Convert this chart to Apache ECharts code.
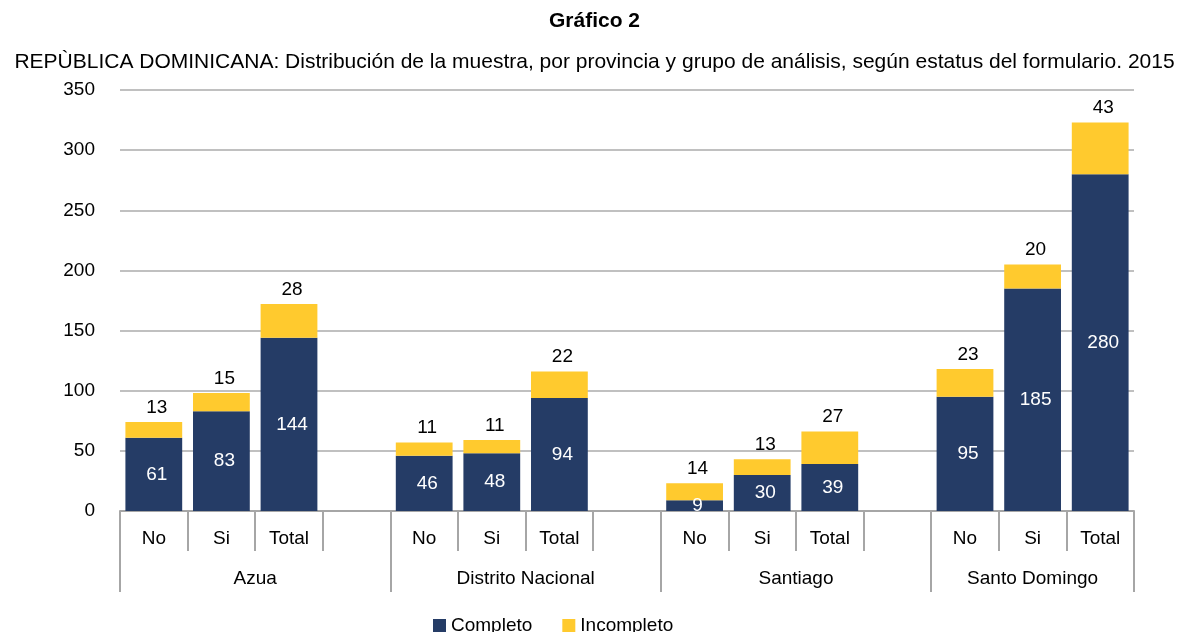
<!DOCTYPE html>
<html>
<head>
<meta charset="utf-8">
<script src="https://cdn.jsdelivr.net/npm/echarts@6/dist/echarts.min.js"></script>
<style>
  html, body { margin: 0; padding: 0; background: #fff; }
  .main { width: 1189px; height: 632px; }
</style>
</head>
<body>
<div class="main" id="main"></div>
<script>
var FONT = "'Liberation Sans', sans-serif";

// sub-categories (blank slot separates provinces)
var subCats = ['No', 'Si', 'Total', '', 'No', 'Si', 'Total', '', 'No', 'Si', 'Total', '', 'No', 'Si', 'Total'];
var provinces = ['Azua', 'Distrito Nacional', 'Santiago', 'Santo Domingo'];
var provinceCenters = [2, 6, 10, 13.5];
var provinceBounds = [0, 4, 8, 12, 15];

var completo = [61, 83, 144, null, 46, 48, 94, null, 9, 30, 39, null, 95, 185, 280];
var incompleto = [13, 15, 28, null, 11, 11, 22, null, 14, 13, 27, null, 23, 20, 43];

var myChart = echarts.init(document.getElementById('main'));

var option = {
  textStyle: { fontFamily: FONT },
  title: [
    {
      text: 'Gráfico 2',
      left: 'center',
      top: 6,
      textStyle: { fontFamily: FONT, fontSize: 21, fontWeight: 'bold', color: '#000' }
    },
    {
      text: 'REPÙBLICA DOMINICANA: Distribución de la muestra, por provincia y grupo de análisis, según estatus del formulario. 2015',
      left: 'center',
      top: 47,
      textStyle: { fontFamily: FONT, fontSize: 21, fontWeight: 'normal', color: '#000' }
    }
  ],
  legend: {
    data: ['Completo', 'Incompleto'],
    top: 611,
    left: 428,
    icon: 'rect',
    itemWidth: 13,
    itemHeight: 13,
    itemGap: 30,
    textStyle: { fontFamily: FONT, fontSize: 19, color: '#000' }
  },
  grid: { left: 120, right: 55, top: 90, bottom: 121 },
  xAxis: [
    {
      type: 'category',
      data: subCats,
      axisLine: { show: true, lineStyle: { color: '#a6a6a6', width: 2 } },
      axisTick: { show: true, interval: 0, length: 40, lineStyle: { color: '#a6a6a6', width: 2 } },
      axisLabel: { interval: 0, margin: 18, fontSize: 19, color: '#000', fontFamily: FONT }
    },
    {
      type: 'value',
      position: 'bottom',
      min: 0,
      max: 15,
      axisLine: { show: false },
      splitLine: { show: false },
      axisTick: {
        show: true,
        customValues: provinceBounds,
        length: 81,
        lineStyle: { color: '#a6a6a6', width: 2 }
      },
      axisLabel: {
        customValues: provinceCenters,
        margin: 58,
        fontSize: 19,
        color: '#000',
        fontFamily: FONT,
        formatter: function (v) {
          return provinces[provinceCenters.indexOf(v)];
        }
      }
    }
  ],
  yAxis: {
    type: 'value',
    min: 0,
    max: 350,
    interval: 50,
    axisLine: { show: false },
    axisTick: { show: false },
    splitLine: { lineStyle: { color: '#c0c0c0', width: 2 } },
    axisLabel: { margin: 25, fontSize: 19, color: '#000', fontFamily: FONT }
  },
  series: [
    {
      name: 'Completo',
      type: 'bar',
      stack: 'total',
      xAxisIndex: 0,
      barCategoryGap: '16%',
      data: completo,
      itemStyle: { color: '#253c66' },
      label: {
        show: true,
        position: 'inside',
        offset: [3, 0],
        color: '#fff',
        fontSize: 19,
        fontFamily: FONT
      }
    },
    {
      name: 'Incompleto',
      type: 'bar',
      stack: 'total',
      xAxisIndex: 0,
      data: incompleto,
      itemStyle: { color: '#ffca2e' },
      label: {
        show: true,
        position: 'top',
        distance: 5,
        offset: [3, 0],
        color: '#000',
        fontSize: 19,
        fontFamily: FONT
      }
    }
  ]
};

myChart.setOption(option);
</script>
</body>
</html>
